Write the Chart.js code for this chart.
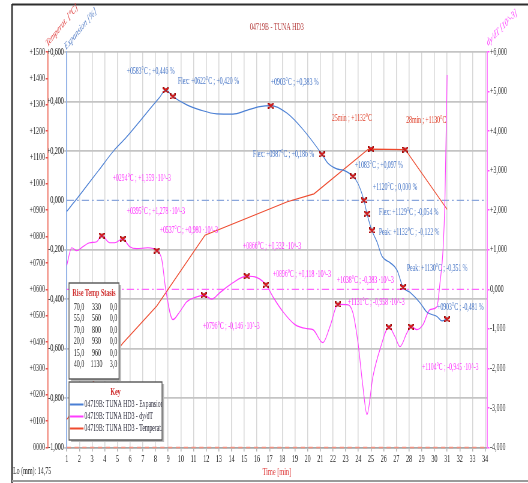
<!DOCTYPE html>
<html>
<head>
<meta charset="utf-8">
<script src="https://cdn.jsdelivr.net/npm/chart.js@4.4.1/dist/chart.umd.min.js"></script>
<style>
  html, body { margin: 0; padding: 0; overflow: hidden; background: #fff; width: 528px; height: 483px; }
  /* the dilatometer plot is drawn wide and squeezed horizontally to get the condensed look */
  #wrap { position: absolute; left: 0; top: 0; transform: scaleX(0.6); transform-origin: 0 0; }
</style>
</head>
<body>
<div id="wrap"><canvas id="c" width="880" height="483"></canvas></div>
<script>
const SQUEEZE = 0.6;
const FONT = '"Liberation Serif", "Times New Roman", serif';

// ---- measured series -------------------------------------------------
// expansion [%] against time [min]
const expTime  = [1.0, 1.7, 2.6, 3.5, 4.7, 5.7, 6.7, 7.6, 8.3, 8.81, 9.37, 10.47, 11.5, 12.84, 14.1, 15.2, 16.23, 17.1, 18.36, 19.63, 21.13, 21.6, 22.3, 22.8, 23.57, 23.97, 24.44, 24.68, 25.07, 25.47, 25.86, 26.5, 27.05, 27.52, 28.07, 28.86, 29.4, 30.2, 30.6, 31.0];
const expValue = [-0.045, 0.0, 0.06, 0.12, 0.2, 0.255, 0.316, 0.372, 0.415, 0.446, 0.420, 0.386, 0.366, 0.350, 0.349, 0.364, 0.379, 0.383, 0.353, 0.287, 0.186, 0.150, 0.127, 0.122, 0.097, 0.068, 0.000, -0.054, -0.122, -0.168, -0.226, -0.252, -0.282, -0.351, -0.372, -0.414, -0.452, -0.470, -0.488, -0.481];

// furnace temperature [°C]
const tempTime  = [1.0, 3.76, 5.42, 8.1, 11.9, 18.4, 20.5, 24.75, 25.0, 27.7, 31.0];
const tempValue = [106, 294, 395, 537, 805, 932, 962, 1130, 1132, 1130, 903];

// expansion rate dy/dT [10^-3]
const dydtTime  = [1.0, 1.39, 1.79, 2.26, 2.82, 3.37, 3.76, 4.39, 4.79, 5.42, 5.97, 6.52, 7.39, 8.10, 8.5, 8.81, 9.37, 9.92, 10.47, 11.26, 11.81, 12.44, 13.08, 14.1, 15.21, 16.0, 16.71, 17.26, 18.05, 19.0, 19.94, 20.42, 21.2, 21.76, 22.39, 23.1, 23.57, 23.97, 24.36, 24.68, 25.15, 25.7, 26.41, 26.89, 27.28, 27.84, 28.15, 28.62, 29.1, 29.65, 30.2, 30.44, 30.68, 30.83, 31.0];
const dydtValue = [0.60, 1.05, 0.975, 1.076, 1.177, 1.203, 1.359, 1.177, 1.177, 1.278, 1.076, 1.026, 1.051, 0.980, 0.748, -0.010, -0.767, -0.565, -0.313, -0.19, -0.146, -0.25, -0.085, 0.167, 0.332, 0.294, 0.118, -0.187, -0.565, -0.893, -0.994, -1.020, -1.348, -0.944, -0.383, -0.388, -0.590, -1.348, -2.459, -3.166, -2.206, -1.525, -0.958, -1.196, -1.449, -1.095, -0.945, -1.020, -0.893, -0.515, -0.439, 0.167, 1.000, 2.263, 5.419];

// ---- evaluated points ------------------------------------------------
const expMarkTime  = [8.81, 9.37, 17.1, 21.13, 23.57, 24.44, 24.68, 25.07, 27.52, 31.0];
const expMarkValue = [0.446, 0.420, 0.383, 0.186, 0.097, 0.000, -0.054, -0.122, -0.351, -0.481];
const expMarkTemp  = [583, 622, 903, 987, 1083, 1120, 1129, 1132, 1130, 903];
const expMarkKind  = ['', 'Flex: ', '', 'Flex: ', '', '', 'Flex: ', 'Peak: ', 'Peak: ', ''];

const tempMarkTime  = [25.0, 27.7];
const tempMarkValue = [1132, 1130];

const dydtMarkTime  = [3.76, 5.42, 8.10, 11.81, 15.21, 16.71, 22.39, 26.41, 28.15];
const dydtMarkValue = [1.359, 1.278, 0.980, -0.146, 0.332, 0.118, -0.383, -0.958, -0.945];
const dydtMarkTemp  = [294, 395, 537, 796, 866, 896, 1038, 1131, 1104];

// heating program
const riseRate   = [70, 55, 70, 20, 15, 40];
const riseTarget = [330, 560, 800, 930, 960, 1130];
const riseStasis = [0, 0, 0, 0, 0, 3];

const sampleTitle = '04719B - TUNA HD3';
const sampleName  = '04719B: TUNA HD3';
const seriesNames = ['Expansion', 'dy/dT', 'Temperat.'];
const initialLength = 14.75;

// ---- label placement (screen px offsets from the marked point) ---------
const expLabelOffset  = [[-39, -19], [5, -15.5], [0, -23.5], [-69, 0.5], [2, -10.5], [9, -12.5], [12, -1], [7, 2.3], [4, -18.4], [-10, -11.6]];
const tempLabelOffset = [[-39, -31], [1, -28.7]];
const dydtLabelOffset = [[11, -57], [4, -27], [3, -20], [-1, 31.6], [-4, -29.5], [7, -10], [-1, -24], [-41, -24.5], [11, 41]];

const BLUE = '#4a7fd4', PINK = '#ff3cff', RED = '#ee4a2e';

// ---- helpers -----------------------------------------------------------
const X = px => px / SQUEEZE;
const comma  = (v, d) => Math.abs(v).toFixed(d).replace('.', ',');
const signed = (v, d) => (v > 1e-9 ? '+' : v < -1e-9 ? '-' : '') + comma(v, d);
const tempText = t => '+' + String(Math.round(t)).padStart(4, '0') + '°C';
const pts = (xs, ys) => xs.map((x, i) => ({ x, y: ys[i] }));

// small red cross, pre-stretched so it stays square after the squeeze
function makeCross() {
  const h = 6, w = Math.round(h / SQUEEZE);
  const c = document.createElement('canvas');
  c.width = w; c.height = h;
  const g = c.getContext('2d');
  const draw = () => { g.beginPath(); g.moveTo(1, 1); g.lineTo(w - 1, h - 1); g.moveTo(w - 1, 1); g.lineTo(1, h - 1); g.stroke(); };
  g.lineCap = 'round';
  g.strokeStyle = '#6a0000'; g.lineWidth = 2.4; draw();
  g.strokeStyle = '#ff1010'; g.lineWidth = 1.3; draw();
  return c;
}
const cross = makeCross();

function markerSet(label, xs, ys, axis) {
  return { label, data: pts(xs, ys), yAxisID: axis, showLine: false, pointStyle: cross,
           pointRadius: 3, pointHoverRadius: 3, order: 0 };
}

// ---- decorations ---------------------------------------------------------
const decor = {
  id: 'decor',
  beforeDraw(chart) {
    const { ctx, width, height } = chart;
    ctx.save();
    ctx.fillStyle = '#fff';
    ctx.fillRect(0, 0, width, height);
    ctx.strokeStyle = '#2e2e2e';
    ctx.lineWidth = 2;
    ctx.beginPath(); ctx.moveTo(X(12), 4.5); ctx.lineTo(width, 4.5); ctx.stroke();
    ctx.lineWidth = 2.6;
    ctx.beginPath(); ctx.moveTo(X(12), 4); ctx.lineTo(X(12), height); ctx.stroke();
    ctx.strokeStyle = '#9a9a9a'; ctx.lineWidth = 2;
    ctx.beginPath(); ctx.moveTo(X(12), 481); ctx.lineTo(width, 481); ctx.stroke();
    ctx.restore();
  },
  beforeDatasetsDraw(chart) {
    const { ctx, chartArea: a, scales } = chart;
    const hline = (scale, v, color, dash, w) => {
      const y = scale.getPixelForValue(v);
      ctx.save();
      ctx.strokeStyle = color; ctx.lineWidth = w; ctx.setLineDash(dash);
      ctx.beginPath(); ctx.moveTo(a.left, y); ctx.lineTo(a.right, y); ctx.stroke();
      ctx.restore();
    };
    hline(scales.yE, 0, '#8aa6dc', [12, 5, 3, 5], 1.3);
    hline(scales.yD, 0, '#ff66ff', [12, 5, 3, 5], 1.3);
    hline(scales.yT, 0, '#f09080', [7, 6], 1.6);
  },
  afterDatasetsDraw(chart) {
    const { ctx } = chart;
    const idx = name => chart.data.datasets.findIndex(d => d.label === name);
    const put = (name, offsets, texts, color) => {
      const meta = chart.getDatasetMeta(idx(name));
      ctx.save();
      ctx.font = '9.6px ' + FONT;
      ctx.fillStyle = color;
      ctx.textAlign = 'left';
      ctx.textBaseline = 'middle';
      meta.data.forEach((p, i) => {
        ctx.fillText(texts[i], p.x + offsets[i][0] / SQUEEZE, p.y + offsets[i][1]);
      });
      ctx.restore();
    };
    put('expMarks', expLabelOffset,
        expMarkValue.map((v, i) => expMarkKind[i] + tempText(expMarkTemp[i]) + ' ; ' + signed(v, 3) + ' %'), '#4a78c8');
    put('tempMarks', tempLabelOffset,
        tempMarkValue.map((v, i) => Math.round(tempMarkTime[i]) + 'min ; ' + tempText(v)), '#e0402a');
    put('dydtMarks', dydtLabelOffset,
        dydtMarkValue.map((v, i) => tempText(dydtMarkTemp[i]) + ' ; ' + signed(v, 3) + ' ·10^-3'), '#ff30ff');
  },
  afterDraw(chart) {
    const { ctx } = chart;
    const box = (l, t, r, b) => {
      ctx.fillStyle = '#b8b8b8';
      ctx.fillRect(X(l + 2), t + 2, X(r) - X(l), b - t);
      ctx.fillStyle = '#fff';
      ctx.fillRect(X(l), t, X(r) - X(l), b - t);
      ctx.strokeStyle = '#555'; ctx.lineWidth = 1.4;
      ctx.strokeRect(X(l), t, X(r) - X(l), b - t);
    };
    ctx.save();
    ctx.textBaseline = 'middle';

    // heating program table
    box(69, 283, 119, 379);
    ctx.font = 'bold 10px ' + FONT; ctx.fillStyle = '#d03030'; ctx.textAlign = 'center';
    ctx.fillText('Rise Temp Stasis', X(94), 293);
    ctx.font = '10px ' + FONT; ctx.fillStyle = '#222';
    riseRate.forEach((r, i) => {
      const y = 307 + i * 11.5;
      ctx.fillText(comma(r, 1), X(79), y);
      ctx.fillText(String(riseTarget[i]), X(96.5), y);
      ctx.fillText(comma(riseStasis[i], 1), X(113.5), y);
    });

    // key
    box(69, 382, 162, 440);
    ctx.font = 'bold 10px ' + FONT; ctx.fillStyle = '#d03030'; ctx.textAlign = 'center';
    ctx.fillText('Key', X(115.5), 392);
    ctx.save();
    ctx.beginPath(); ctx.rect(X(69), 382, X(162) - X(69), 58); ctx.clip();
    [BLUE, PINK, RED].forEach((col, i) => {
      const y = 404.5 + i * 12;
      ctx.strokeStyle = col; ctx.lineWidth = 2;
      ctx.beginPath(); ctx.moveTo(X(70), y); ctx.lineTo(X(83.5), y); ctx.stroke();
      ctx.font = '9.6px ' + FONT; ctx.fillStyle = '#2a2a3a'; ctx.textAlign = 'left';
      ctx.fillText(sampleName + ' - ' + seriesNames[i], X(84.5), y);
    });
    ctx.restore();

    // slanted axis captions
    const diag = (text, px, py, deg, color) => {
      ctx.save();
      ctx.translate(X(px), py);
      ctx.rotate(deg * Math.PI / 180);
      ctx.font = 'italic 10.5px ' + FONT; ctx.fillStyle = color;
      ctx.textAlign = 'left'; ctx.textBaseline = 'alphabetic';
      ctx.fillText(text, 0, 0);
      ctx.restore();
    };
    diag('Temperat. [°C]', 47.5, 47, -37, '#e04040');
    diag('Expansion [%]', 66, 50, -36, '#5a82c8');
    diag('dy/dT [10^-3]', 488, 46, -33, '#ff40ff');

    ctx.font = '10px ' + FONT; ctx.fillStyle = '#222'; ctx.textAlign = 'left';
    ctx.fillText('Lo (mm): ' + comma(initialLength, 2), X(13), 471);
    ctx.restore();
  }
};

const tickFont = { family: FONT, size: 10 };

new Chart(document.getElementById('c'), {
  type: 'line',
  data: {
    datasets: [
      markerSet('expMarks', expMarkTime, expMarkValue, 'yE'),
      markerSet('tempMarks', tempMarkTime, tempMarkValue, 'yT'),
      markerSet('dydtMarks', dydtMarkTime, dydtMarkValue, 'yD'),
      { label: seriesNames[0], data: pts(expTime, expValue), yAxisID: 'yE', borderColor: BLUE, borderWidth: 1.2,
        pointRadius: 0, cubicInterpolationMode: 'monotone', order: 1 },
      { label: seriesNames[1], data: pts(dydtTime, dydtValue), yAxisID: 'yD', borderColor: PINK, borderWidth: 1.2,
        pointRadius: 0, cubicInterpolationMode: 'monotone', order: 1 },
      { label: seriesNames[2], data: pts(tempTime, tempValue), yAxisID: 'yT', borderColor: RED, borderWidth: 1.2,
        pointRadius: 0, tension: 0, order: 1 }
    ]
  },
  options: {
    responsive: false,
    animation: false,
    devicePixelRatio: 1,
    layout: { padding: 0 },
    plugins: {
      legend: { display: false },
      tooltip: { enabled: false },
      title: { display: true, text: sampleTitle, color: '#b84444', font: { family: FONT, size: 10, weight: 'normal' },
               padding: { top: 21, bottom: 19 }, fullSize: false }
    },
    scales: {
      x: {
        type: 'linear', position: 'bottom', min: 1, max: 34.15,
        ticks: { stepSize: 1, includeBounds: false, autoSkip: false, maxRotation: 0, color: '#222', font: tickFont, padding: 2,
                 callback: v => String(v) },
        grid: { color: '#d6d6d6', lineWidth: 1.5, tickLength: 4, tickColor: '#b0b0b0' },
        border: { color: '#a8a8a8', width: 1.5 },
        title: { display: true, text: 'Time [min]', color: '#e04040', font: { family: FONT, size: 10.5 }, padding: { top: 0, bottom: 4 } },
        afterFit: s => { s.height = 35.5; }
      },
      yT: {
        position: 'left', weight: 2, min: 0, max: 1500,
        ticks: { stepSize: 100, autoSkip: false, color: '#222', font: tickFont, padding: 1,
                 callback: v => v === 0 ? '0000' : '+' + String(v).padStart(4, '0') },
        grid: { drawOnChartArea: false, tickLength: 4, tickColor: '#e05050', lineWidth: 1.5 },
        border: { color: '#ee6a5a', width: 1.7 },
        afterFit: s => { s.width = 80; }
      },
      yE: {
        position: 'left', weight: 1, min: -1, max: 0.6,
        ticks: { stepSize: 0.2, autoSkip: false, color: '#222', font: tickFont, padding: 1,
                 callback: v => signed(v, 3) },
        grid: { color: c => (c.tick && Math.abs(c.tick.value) < 1e-6) ? 'rgba(0,0,0,0)' : '#c4c4c4',
                lineWidth: 1.8, tickLength: 4 },
        border: { color: '#8fb0e8', width: 1.7 },
        afterFit: s => { s.width = 31.2; }
      },
      yD: {
        position: 'right', min: -4, max: 6,
        ticks: { stepSize: 1, autoSkip: false, color: '#222', font: tickFont, padding: 1,
                 callback: v => signed(v, 3) },
        grid: { drawOnChartArea: false, tickLength: 4, tickColor: '#ff55ff', lineWidth: 1.5 },
        border: { color: '#ff80ff', width: 2 },
        afterFit: s => { s.width = 68.3; }
      }
    }
  },
  plugins: [decor]
});
</script>
</body>
</html>
